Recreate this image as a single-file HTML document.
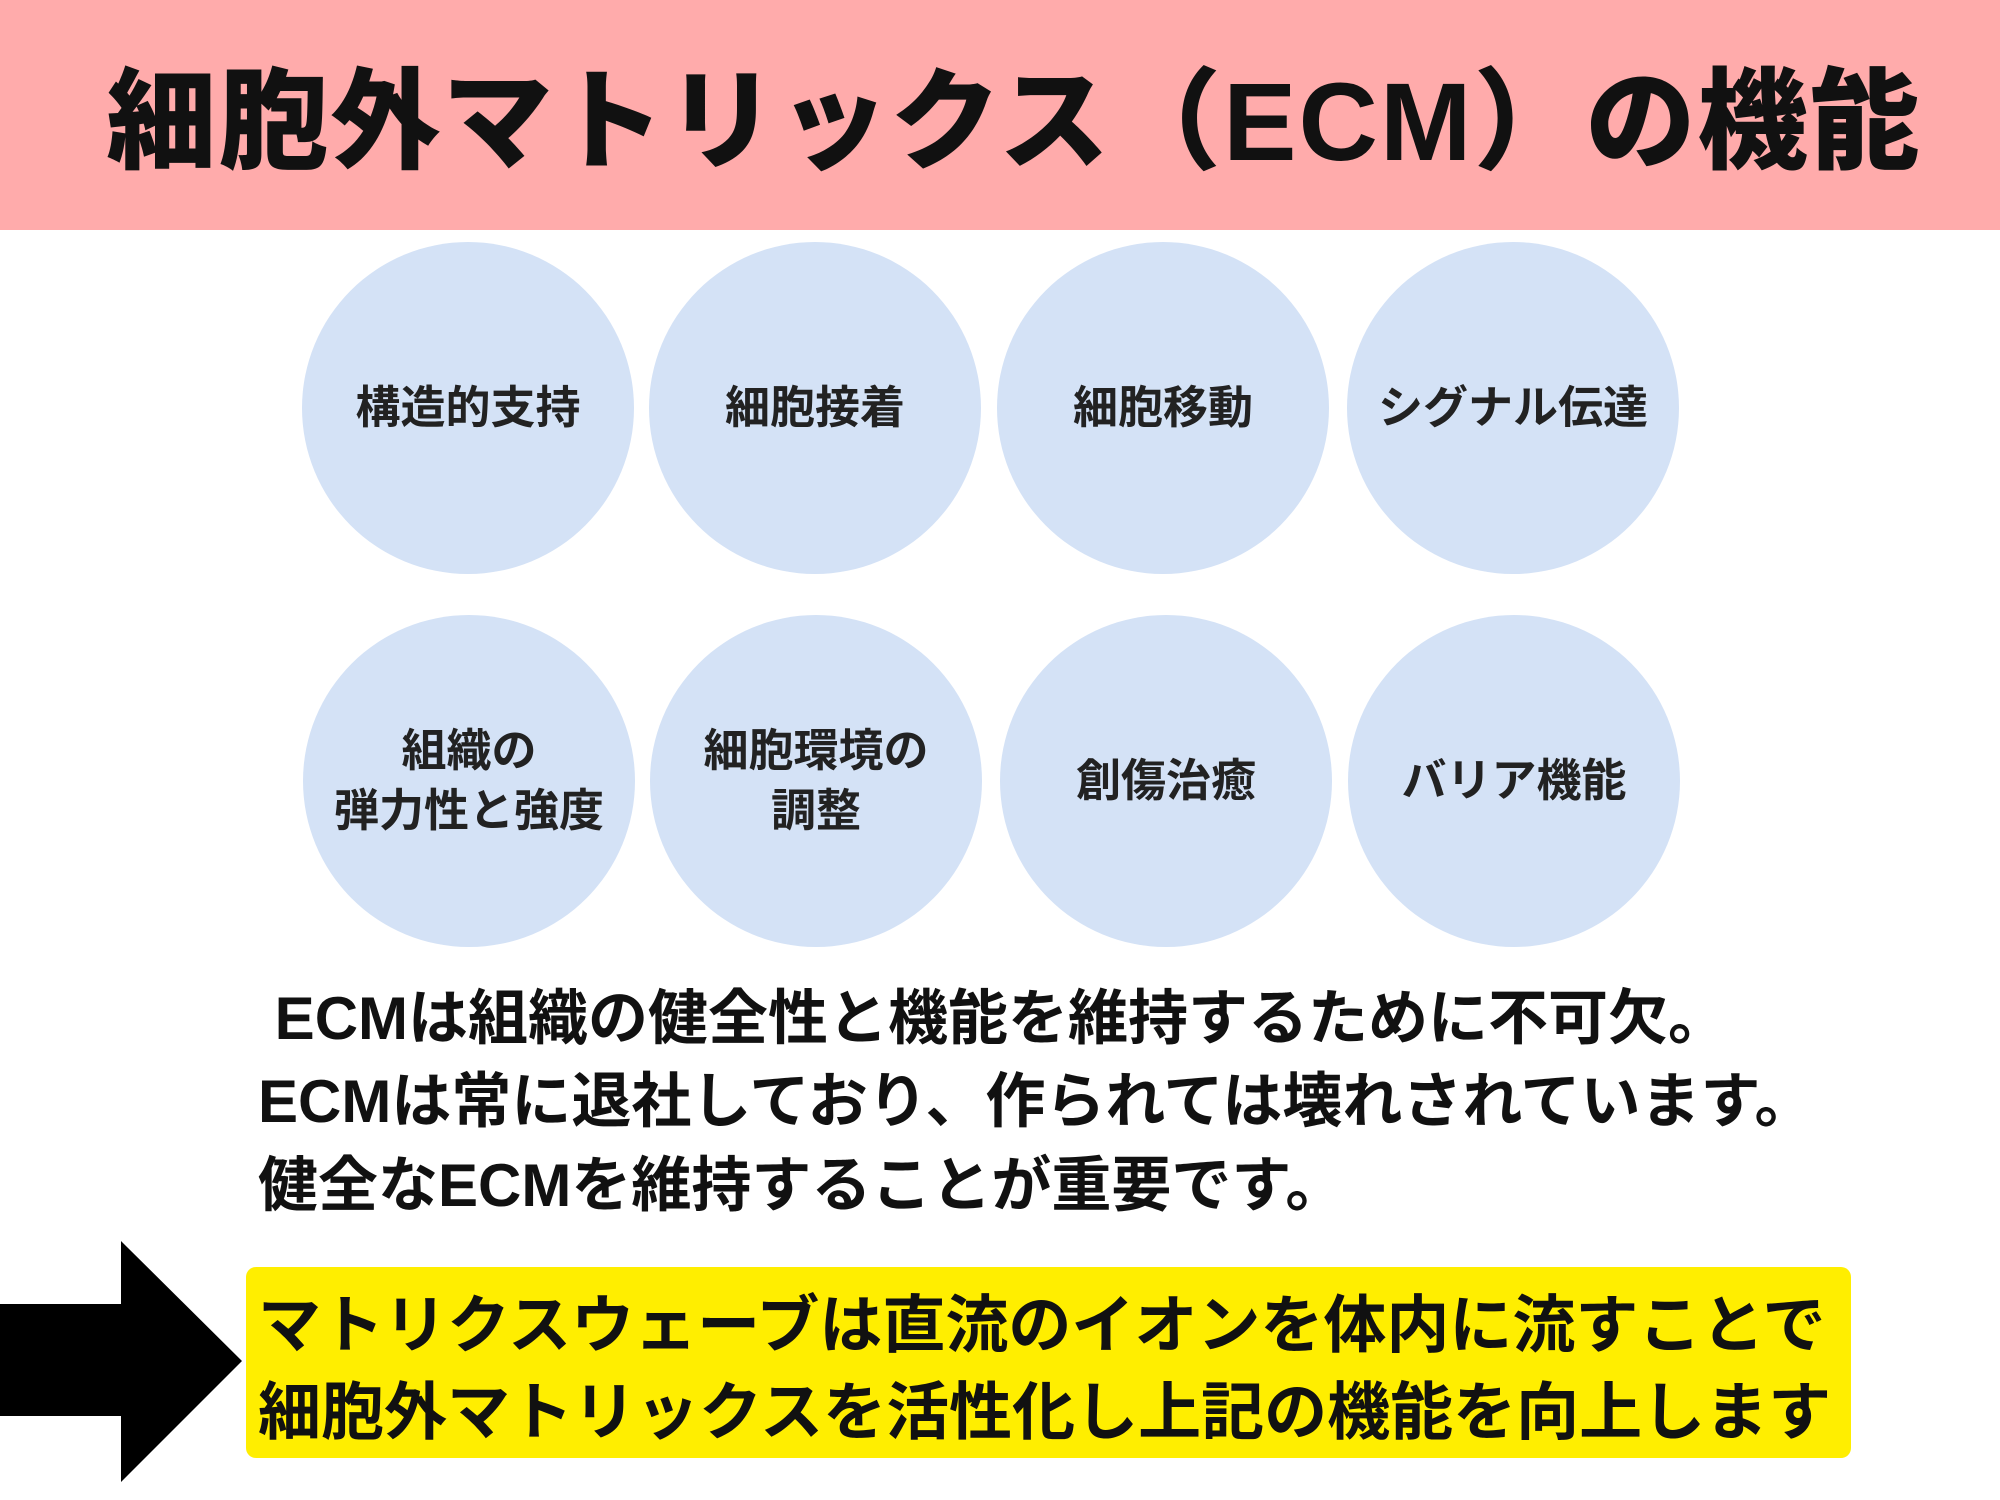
<!DOCTYPE html>
<html><head><meta charset="utf-8"><style>
html,body{margin:0;padding:0;width:2000px;height:1500px;background:#fff;overflow:hidden;position:relative;font-family:"Liberation Sans","Noto Sans CJK JP",sans-serif;}
.hdr{position:absolute;left:0;top:0;width:2000px;height:230px;background:#FFABAB;}
.title{position:absolute;left:14px;top:0;width:2000px;height:230px;line-height:245px;text-align:center;font-size:110px;font-weight:900;color:#111;letter-spacing:2px;}
.c{position:absolute;width:332px;height:332px;border-radius:50%;background:#D4E2F6;display:flex;align-items:center;justify-content:center;text-align:center;font-size:45px;font-weight:700;color:#222;line-height:60px;}
.p{position:absolute;left:258px;font-size:60px;font-weight:700;color:#111;white-space:nowrap;}
.y{position:absolute;left:246px;top:1267px;width:1605px;height:191px;background:#FFEE00;border-radius:10px;}
.yt{position:absolute;left:258px;font-size:63px;font-weight:700;color:#111;white-space:nowrap;}
</style></head><body>
<div class="hdr"></div>
<div class="title">細胞外マトリックス（ECM）の機能</div>

<div class="c" style="left:302px;top:242px">構造的支持</div>
<div class="c" style="left:649px;top:242px">細胞接着</div>
<div class="c" style="left:997px;top:242px">細胞移動</div>
<div class="c" style="left:1347px;top:242px">シグナル伝達</div>
<div class="c" style="left:303px;top:615px">組織の<br>弾力性と強度</div>
<div class="c" style="left:650px;top:615px">細胞環境の<br>調整</div>
<div class="c" style="left:1000px;top:615px">創傷治癒</div>
<div class="c" style="left:1348px;top:615px">バリア機能</div>

<div class="p" style="top:970px">&nbsp;ECMは組織の健全性と機能を維持するために不可欠。</div>
<div class="p" style="top:1053px">ECMは常に退社しており、作られては壊れされています。</div>
<div class="p" style="top:1137px">健全なECMを維持することが重要です。</div>

<div class="y"></div>
<div class="yt" style="top:1275px">マトリクスウェーブは直流のイオンを体内に流すことで</div>
<div class="yt" style="top:1362px">細胞外マトリックスを活性化し上記の機能を向上します</div>

<svg style="position:absolute;left:0;top:0" width="2000" height="1500">
<polygon points="0,1304 121,1304 121,1241 242,1361 121,1482 121,1416 0,1416" fill="#000"/>
</svg>
</body></html>
